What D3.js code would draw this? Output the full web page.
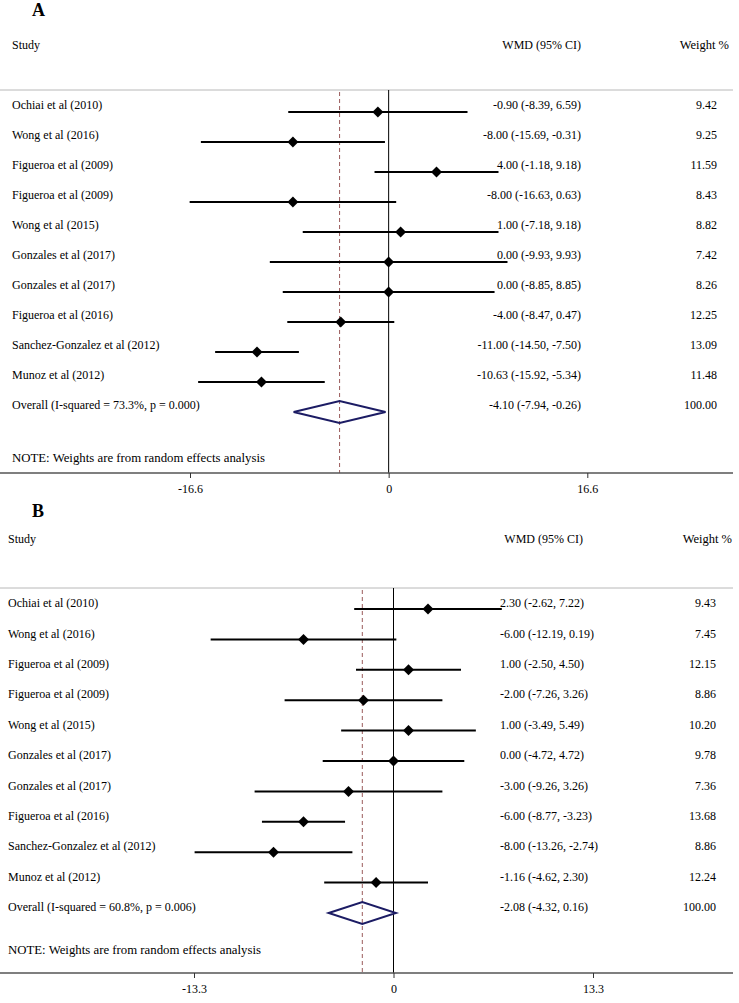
<!DOCTYPE html>
<html><head><meta charset="utf-8">
<script src="https://cdn.jsdelivr.net/npm/d3@7"></script>
<style>
html,body{margin:0;padding:0;background:#fff;}
svg{display:block;font-family:"Liberation Serif","Times New Roman",serif;}
</style></head>
<body><svg id="chart" width="739" height="1003"></svg>
<script>
// ---------- Panel A data ----------
const studiesA = ["Ochiai et al (2010)","Wong et al (2016)","Figueroa et al (2009)","Figueroa et al (2009)","Wong et al (2015)","Gonzales et al (2017)","Gonzales et al (2017)","Figueroa et al (2016)","Sanchez-Gonzalez et al (2012)","Munoz et al (2012)"];
const wmdA   = [-0.90, -8.00, 4.00, -8.00, 1.00, 0.00, 0.00, -4.00, -11.00, -10.63];
const lowerA = [-8.39, -15.69, -1.18, -16.63, -7.18, -9.93, -8.85, -8.47, -14.50, -15.92];
const upperA = [6.59, -0.31, 9.18, 0.63, 9.18, 9.93, 8.85, 0.47, -7.50, -5.34];
const weightA = [9.42, 9.25, 11.59, 8.43, 8.82, 7.42, 8.26, 12.25, 13.09, 11.48];
const overallA = [-4.10, -7.94, -0.26];
const overallTextA = "Overall  (I-squared = 73.3%, p = 0.000)";
const ticksA = [-16.6, 0, 16.6];

// ---------- Panel B data ----------
const studiesB = ["Ochiai et al (2010)","Wong et al (2016)","Figueroa et al (2009)","Figueroa et al (2009)","Wong et al (2015)","Gonzales et al (2017)","Gonzales et al (2017)","Figueroa et al (2016)","Sanchez-Gonzalez et al (2012)","Munoz et al (2012)"];
const wmdB   = [2.30, -6.00, 1.00, -2.00, 1.00, 0.00, -3.00, -6.00, -8.00, -1.16];
const lowerB = [-2.62, -12.19, -2.50, -7.26, -3.49, -4.72, -9.26, -8.77, -13.26, -4.62];
const upperB = [7.22, 0.19, 4.50, 3.26, 5.49, 4.72, 3.26, -3.23, -2.74, 2.30];
const weightB = [9.43, 7.45, 12.15, 8.86, 10.20, 9.78, 7.36, 13.68, 8.86, 12.24];
const overallB = [-2.08, -4.32, 0.16];
const overallTextB = "Overall  (I-squared = 60.8%, p = 0.006)";
const ticksB = [-13.3, 0, 13.3];

const svg = d3.select("#chart");
const fmt = v => v.toFixed(2);

function drawPanel(p) {
  const g = svg.append("g");
  const x = d3.scaleLinear().domain([p.ticks[0], p.ticks[2]]).range(p.xRange);
  const n = p.studies.length;
  const rowY = i => p.row0 + i * p.rowH;
  const overallY = rowY(n);
  const estAnchor = p.estAlign === "start" ? "start" : "end";

  g.append("text").attr("x", 32).attr("y", p.letterY).attr("dy", "0.35em")
    .attr("font-size", 18).attr("font-weight", "bold").attr("fill", "#000").text(p.letter);
  g.append("text").attr("x", p.studyX).attr("y", p.headY).attr("dy", "0.35em")
    .attr("font-size", 12).text("Study");
  g.append("text").attr("x", p.wmdHeadRight).attr("y", p.headY).attr("dy", "0.35em")
    .attr("text-anchor", "end").attr("font-size", 12).text("WMD (95% CI)");
  g.append("text").attr("x", p.weightHeadRight).attr("y", p.headY).attr("dy", "0.35em")
    .attr("text-anchor", "end").attr("font-size", 12.5).text("Weight %");

  g.append("line").attr("x1", 0).attr("x2", 733).attr("y1", p.sepY).attr("y2", p.sepY)
    .attr("stroke", "#b8b8b8").attr("stroke-width", 1);

  g.append("line").attr("x1", x(0)).attr("x2", x(0)).attr("y1", p.sepY).attr("y2", p.axisY)
    .attr("stroke", "#000").attr("stroke-width", 1);
  g.append("line").attr("x1", x(p.overall[0])).attr("x2", x(p.overall[0]))
    .attr("y1", p.sepY + 2).attr("y2", p.axisY)
    .attr("stroke", "#9a5a5a").attr("stroke-width", 1).attr("stroke-dasharray", "4,3");

  const idx = d3.range(n);
  g.selectAll(".ci").data(idx).join("line")
    .attr("x1", i => x(p.lower[i])).attr("x2", i => x(p.upper[i]))
    .attr("y1", i => rowY(i) + p.markOff).attr("y2", i => rowY(i) + p.markOff)
    .attr("stroke", "#000").attr("stroke-width", 2);
  const sym = d3.symbol().type(d3.symbolSquare).size(60);
  g.selectAll(".pt").data(idx).join("path")
    .attr("d", sym)
    .attr("transform", i => `translate(${x(p.wmd[i])},${rowY(i) + p.markOff}) rotate(45)`)
    .attr("fill", "#000");

  g.selectAll(".lab").data(idx).join("text")
    .attr("x", p.studyX).attr("y", i => rowY(i)).attr("dy", "0.35em")
    .attr("font-size", 12).text(i => p.studies[i]);
  g.selectAll(".est").data(idx).join("text")
    .attr("x", p.estX).attr("y", i => rowY(i)).attr("dy", "0.35em")
    .attr("text-anchor", estAnchor).attr("font-size", 12)
    .text(i => `${fmt(p.wmd[i])} (${fmt(p.lower[i])}, ${fmt(p.upper[i])})`);
  g.selectAll(".wt").data(idx).join("text")
    .attr("x", p.weightRight).attr("y", i => rowY(i)).attr("dy", "0.35em")
    .attr("text-anchor", "end").attr("font-size", 12)
    .text(i => fmt(p.weight[i]));

  g.append("text").attr("x", p.studyX).attr("y", overallY).attr("dy", "0.35em")
    .attr("font-size", 12).text(p.overallText);
  g.append("text").attr("x", p.estX).attr("y", overallY).attr("dy", "0.35em")
    .attr("text-anchor", estAnchor).attr("font-size", 12)
    .text(`${fmt(p.overall[0])} (${fmt(p.overall[1])}, ${fmt(p.overall[2])})`);
  g.append("text").attr("x", p.weightRight).attr("y", overallY).attr("dy", "0.35em")
    .attr("text-anchor", "end").attr("font-size", 12).text("100.00");
  const dy = overallY + p.markOff;
  const pts = [[x(p.overall[1]), dy], [x(p.overall[0]), dy - 11], [x(p.overall[2]), dy], [x(p.overall[0]), dy + 11]];
  g.append("path").attr("d", d3.line()(pts) + "Z")
    .attr("fill", "none").attr("stroke", "#1c1c64").attr("stroke-width", 2);

  g.append("text").attr("x", p.studyX).attr("y", p.noteY).attr("dy", "0.35em")
    .attr("font-size", 12.8).text("NOTE: Weights are from random effects analysis");

  g.append("line").attr("x1", 0).attr("x2", 733).attr("y1", p.axisY).attr("y2", p.axisY)
    .attr("stroke", "#555").attr("stroke-width", 1.5);
  const ax = g.append("g").attr("transform", `translate(0,${p.axisY})`)
    .call(d3.axisBottom(x).tickValues(p.ticks).tickSize(5).tickPadding(6)
      .tickFormat(d => d === 0 ? "0" : d.toFixed(1)));
  ax.select(".domain").remove();
  ax.selectAll("line").attr("stroke", "#333");
  ax.selectAll("text").attr("font-size", 12).attr("font-family", "Liberation Serif, serif").attr("fill", "#000");
}

drawPanel({letter: "A", studies: studiesA, wmd: wmdA, lower: lowerA, upper: upperA, weight: weightA,
  overall: overallA, overallText: overallTextA, ticks: ticksA,
  xRange: [190, 587.3], letterY: 10, headY: 45, sepY: 90, row0: 105, rowH: 30, markOff: 7,
  noteY: 458, axisY: 473, studyX: 12, estX: 581, estAlign: "end", wmdHeadRight: 581,
  weightRight: 717, weightHeadRight: 729});

drawPanel({letter: "B", studies: studiesB, wmd: wmdB, lower: lowerB, upper: upperB, weight: weightB,
  overall: overallB, overallText: overallTextB, ticks: ticksB,
  xRange: [194, 593], letterY: 511, headY: 539, sepY: 588, row0: 603, rowH: 30.4, markOff: 6,
  noteY: 950, axisY: 973, studyX: 8, estX: 500, estAlign: "start", wmdHeadRight: 583,
  weightRight: 716, weightHeadRight: 732});
</script>
</body></html>
